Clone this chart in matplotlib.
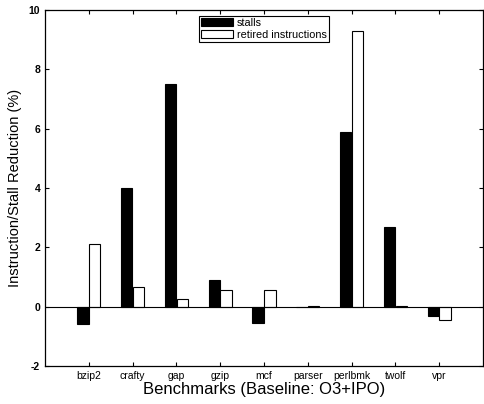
import matplotlib
matplotlib.use("Agg")
import matplotlib.pyplot as plt
import numpy as np

plt.rcParams['font.family'] = ['Liberation Sans', 'DejaVu Sans']

benchmarks = ["bzip2", "crafty", "gap", "gzip", "mcf", "parser", "perlbmk", "twolf", "vpr"]
stalls = [-0.6, 4.0, 7.5, 0.9, -0.55, -0.02, 5.9, 2.7, -0.3]
retired = [2.1, 0.65, 0.25, 0.55, 0.55, 0.03, 9.3, 0.02, -0.45]
yticks = [-2, 0, 2, 4, 6, 8, 10]

fig = plt.figure(figsize=(4.84, 4.04), dpi=100)
ax = fig.add_axes([0.093, 0.094, 0.905, 0.881])

x = np.arange(1, len(benchmarks) + 1)
w = 0.26
ax.bar(x - 0.135, stalls, w, color="black", edgecolor="black", linewidth=0.8, label="stalls")
ax.bar(x + 0.135, retired, w, color="white", edgecolor="black", linewidth=0.8,
       label="retired instructions")
ax.axhline(0, color="black", linewidth=0.8)

ax.set_xlim(0, 10)
ax.set_ylim(-2, 10)
ax.set_xticks(x)
ax.set_xticklabels(benchmarks, fontsize=7.5)
ax.set_yticks(yticks)
ax.set_yticklabels([str(t) for t in yticks], fontsize=7.5, fontweight="bold")
ax.tick_params(direction="in", length=3, top=True, right=True, width=0.8)
for s in ax.spines.values():
    s.set_linewidth(0.9)

ax.set_ylabel("Instruction/Stall Reduction (%)", fontsize=10.5, labelpad=5)
ax.set_xlabel("Benchmarks (Baseline: O3+IPO)", fontsize=12, labelpad=1)

leg = ax.legend(loc="upper center", bbox_to_anchor=(0.5, 0.99), fontsize=7.8,
                fancybox=False, edgecolor="black", framealpha=1,
                handlelength=2.9, handleheight=0.8, borderpad=0.2,
                labelspacing=0.15, handletextpad=0.4, borderaxespad=0.2)
leg.get_frame().set_linewidth(0.8)

fig.savefig("out.png", dpi=100)
